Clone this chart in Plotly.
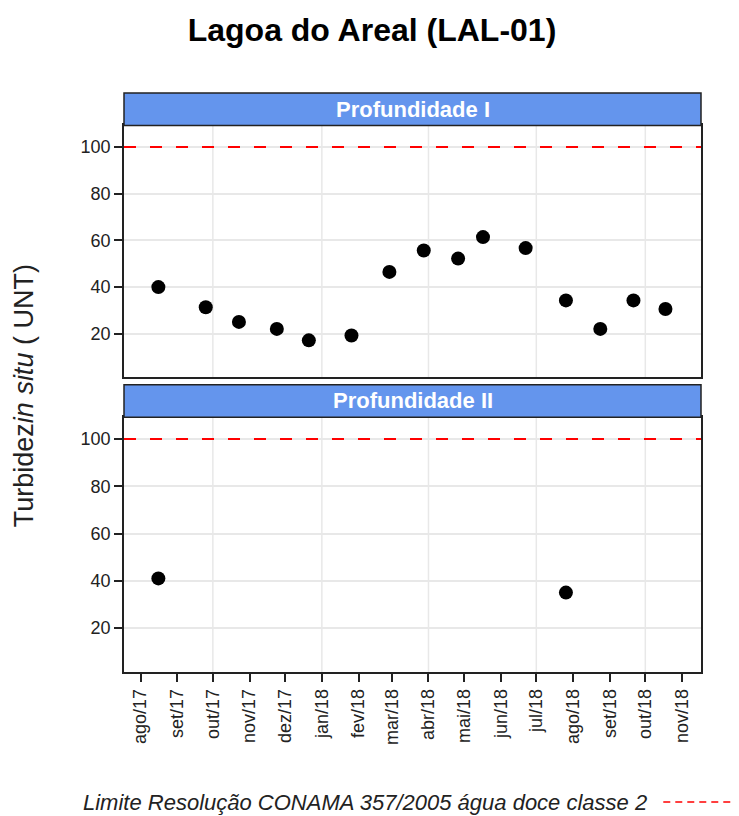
import plotly.graph_objects as go

# ---------------- data ----------------
dates_p1 = ["2017-08-16", "2017-09-25", "2017-10-23", "2017-11-24", "2017-12-21",
            "2018-01-26", "2018-02-27", "2018-03-28", "2018-04-26", "2018-05-17",
            "2018-06-22", "2018-07-26", "2018-08-24", "2018-09-21", "2018-10-18"]
turb_p1 = [40.0, 31.4, 25.1, 22.1, 17.2, 19.3, 46.5, 55.7, 52.2, 61.4,
           56.7, 34.3, 22.1, 34.3, 30.6]

dates_p2 = ["2017-08-16", "2018-07-26"]
turb_p2 = [41.0, 35.0]

limit_value = 100

month_ticks = ["2017-08-01", "2017-09-01", "2017-10-01", "2017-11-01", "2017-12-01",
               "2018-01-01", "2018-02-01", "2018-03-01", "2018-04-01", "2018-05-01",
               "2018-06-01", "2018-07-01", "2018-08-01", "2018-09-01", "2018-10-01",
               "2018-11-01"]
month_labels = ["ago/17", "set/17", "out/17", "nov/17", "dez/17", "jan/18", "fev/18",
                "mar/18", "abr/18", "mai/18", "jun/18", "jul/18", "ago/18", "set/18",
                "out/18", "nov/18"]
quarter_grid = ["2017-10-01", "2018-01-01", "2018-04-01", "2018-07-01", "2018-10-01"]
y_ticks = [20, 40, 60, 80, 100]

panel_titles = ["Profundidade I", "Profundidade II"]
title_text = "Lagoa do Areal (LAL-01)"
ylabel_text = "Turbidez<i>in situ</i> ( UNT)"
legend_text = "Limite Resolução CONAMA 357/2005 água doce classe 2"

x_range = ["2017-07-18", "2018-11-17"]
y_range = [1.4, 109.2]

# ---------------- styling ----------------
FONT = "Liberation Sans, Arial, sans-serif"
GRID = "#e8e8e8"
FRAME = "#222222"
STRIP = "#6495ED"
W, H = 739, 816
OFF = 8  # page body margin of the browser
# target pixel positions (in reference picture) -> figure pixels
L_T, R_T, T_T, B_T = 124, 700.7, 92.5, 672
ML = L_T - OFF
MT = T_T - OFF
MR = W - (R_T - OFF)
MB = H - (B_T - OFF)
plot_h = H - MT - MB
plot_w = W - ML - MR


def py(pix):
    return (B_T - pix) / plot_h


def px(pix):
    return (pix - L_T) / plot_w


up_strip = [py(125), py(92.5)]
up_dom = [py(377), py(125)]
lo_strip = [py(417), py(384.5)]
lo_dom = [py(672), py(417)]

fig = go.Figure()

fig.add_trace(go.Scatter(x=dates_p1, y=turb_p1, mode="markers", xaxis="x2", yaxis="y2",
                         marker=dict(color="black", size=14), showlegend=False))
fig.add_trace(go.Scatter(x=dates_p2, y=turb_p2, mode="markers", xaxis="x", yaxis="y",
                         marker=dict(color="black", size=14), showlegend=False))

shapes = []
for xa, ya in (("x", "y"), ("x2", "y2")):
    for q in quarter_grid:
        shapes.append(dict(type="line", xref=xa, yref=f"{ya} domain", x0=q, x1=q, y0=0, y1=1,
                           line=dict(color=GRID, width=1.5), layer="below"))
    shapes.append(dict(type="line", xref=f"{xa} domain", yref=ya, x0=0, x1=1,
                       y0=limit_value, y1=limit_value,
                       line=dict(color="#ff0000", width=2, dash="12px,14px"), layer="above"))

# strips
for dom in (up_strip, lo_strip):
    shapes.append(dict(type="rect", xref="x domain", yref="paper", x0=0, x1=1,
                       y0=dom[0], y1=dom[1], fillcolor=STRIP,
                       line=dict(color=FRAME, width=1.5)))

annotations = []
for dom, title in ((up_strip, panel_titles[0]), (lo_strip, panel_titles[1])):
    annotations.append(dict(text=f"<b>{title}</b>", xref="x domain", yref="paper",
                            x=0.5, y=(dom[0] + dom[1]) / 2, showarrow=False,
                            xanchor="center", yanchor="middle",
                            font=dict(family=FONT, size=22, color="white")))

annotations.append(dict(text=ylabel_text, xref="paper", yref="paper",
                        x=px(24), y=py(395), textangle=-90,
                        showarrow=False, xanchor="center", yanchor="middle",
                        font=dict(family=FONT, size=27, color="#222")))

# bottom legend
annotations.append(dict(text=f"<i>{legend_text}</i>", xref="paper", yref="paper",
                        x=px(649), y=py(803), showarrow=False,
                        xanchor="right", yanchor="middle",
                        font=dict(family=FONT, size=22, color="#222")))
shapes.append(dict(type="line", xref="paper", yref="paper",
                   x0=px(663), x1=px(745), y0=py(802), y1=py(802),
                   line=dict(color="#ff0000", width=1.5, dash="7px,5px")))

axis_common = dict(range=x_range, type="date", showgrid=False, zeroline=False,
                   showline=True, mirror=True, linecolor=FRAME, linewidth=1.5)

fig.update_layout(
    width=W, height=H,
    margin=dict(l=ML, r=MR, t=MT, b=MB),
    paper_bgcolor="white", plot_bgcolor="white",
    title=dict(text=f"<b>{title_text}</b>", x=(372 - OFF) / W, xref="container",
               xanchor="center", y=1 - (30 - OFF) / H, yanchor="middle",
               font=dict(family=FONT, size=32, color="black")),
    xaxis=dict(**axis_common, anchor="y", tickmode="array", tickvals=month_ticks,
               ticktext=month_labels, tickangle=-90, ticks="outside", ticklen=8,
               tickwidth=1.5, tickcolor=FRAME,
               tickfont=dict(family=FONT, size=18, color="#222")),
    xaxis2=dict(**axis_common, anchor="y2", matches="x", showticklabels=False, ticks=""),
    yaxis=dict(domain=lo_dom, range=y_range, anchor="x", tickmode="array", tickvals=y_ticks,
               showgrid=True, gridcolor=GRID, gridwidth=1.5, zeroline=False,
               showline=True, mirror=True, linecolor=FRAME, linewidth=1.5,
               ticks="outside", ticklen=8, tickwidth=1.5, tickcolor=FRAME,
               tickfont=dict(family=FONT, size=18, color="#222")),
    yaxis2=dict(domain=up_dom, range=y_range, anchor="x2", tickmode="array", tickvals=y_ticks,
                showgrid=True, gridcolor=GRID, gridwidth=1.5, zeroline=False,
                showline=True, mirror=True, linecolor=FRAME, linewidth=1.5,
                ticks="outside", ticklen=8, tickwidth=1.5, tickcolor=FRAME,
                tickfont=dict(family=FONT, size=18, color="#222")),
    shapes=shapes,
    annotations=annotations,
    showlegend=False,
)

fig.write_html("out.html")
